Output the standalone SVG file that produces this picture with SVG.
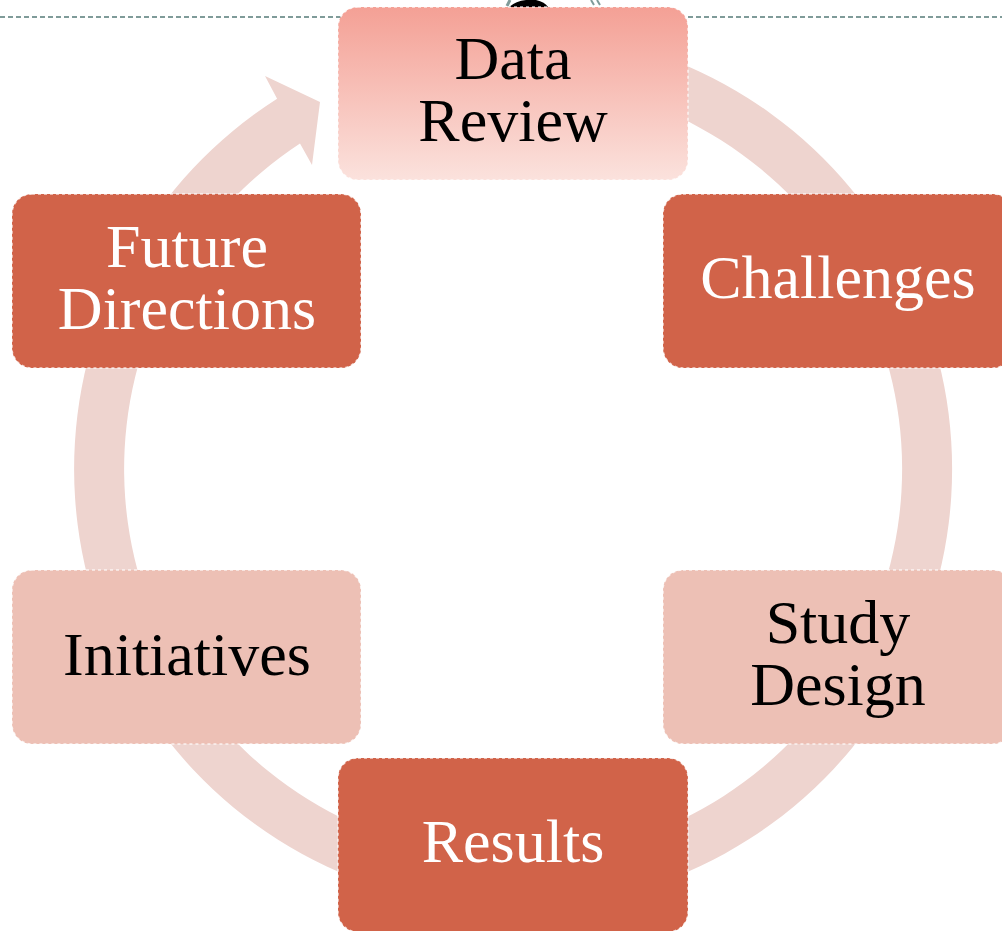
<svg xmlns="http://www.w3.org/2000/svg" width="1002" height="931" viewBox="0 0 1002 931">
  <defs>
    <linearGradient id="gradTop" x1="0" y1="0" x2="0" y2="1">
      <stop offset="0" stop-color="#f4a095"/>
      <stop offset="1" stop-color="#fbe2dd"/>
    </linearGradient>
    <style>
      .box { stroke: #ffffff; stroke-opacity: 0.75; stroke-width: 1.5; stroke-dasharray: 3 3; }
      .dark { fill: #d16349; }
      .light { fill: #edc0b5; }
      .lbl { font-family: "Liberation Serif", "Times New Roman", serif; font-size: 62px; text-anchor: middle; }
      .w { fill: #ffffff; }
      .k { fill: #000000; }
    </style>
  </defs>
  <rect width="1002" height="931" fill="#ffffff"/>

  <!-- top decoration line and partially hidden icon -->
  <g id="header">
    <line x1="0" y1="17" x2="1002" y2="17" stroke="#7f9b99" stroke-width="2" stroke-dasharray="5 3"/>
    <path d="M 509 7 Q 516 1 526 0 L 536 0 Q 545 2 548 7 Z" fill="#000000"/>
    <path d="M 507 6 L 510 0" stroke="#7f9b99" stroke-width="3" fill="none"/>
    <path d="M 591 0 L 594 5 M 597 0 L 600 5" stroke="#7f9b99" stroke-width="2" fill="none"/>
  </g>

  <!-- connectors: continuous circular arrow -->
  <g id="connectors">
    <path d="M 377.3 51.5 A 439 439 0 1 1 277.1 98.8 L 265 76 L 320 102 L 312 165 L 300 143.5 A 389 389 0 1 0 392.8 99 Z" fill="#eed4cf"/>
  </g>

  <g id="node-data-review">
    <rect class="box" x="338" y="7" width="350" height="173" rx="20" ry="20" fill="url(#gradTop)"/>
    <text class="lbl k" x="513" y="79">Data<tspan x="513" dy="62">Review</tspan></text>
  </g>

  <g id="node-challenges">
    <rect class="box dark" x="663" y="194" width="350" height="174" rx="20" ry="20"/>
    <text class="lbl w" x="838" y="298">Challenges</text>
  </g>

  <g id="node-study-design">
    <rect class="box light" x="663" y="570" width="350" height="174" rx="20" ry="20"/>
    <text class="lbl k" x="838" y="643">Study<tspan x="838" dy="62">Design</tspan></text>
  </g>

  <g id="node-results">
    <rect class="box dark" x="338" y="758" width="350" height="174" rx="20" ry="20"/>
    <text class="lbl w" x="513" y="862">Results</text>
  </g>

  <g id="node-initiatives">
    <rect class="box light" x="12" y="570" width="349" height="174" rx="20" ry="20"/>
    <text class="lbl k" x="187" y="675">Initiatives</text>
  </g>

  <g id="node-future-directions">
    <rect class="box dark" x="12" y="194" width="349" height="174" rx="20" ry="20"/>
    <text class="lbl w" x="187" y="267">Future<tspan x="187" dy="62">Directions</tspan></text>
  </g>
</svg>
